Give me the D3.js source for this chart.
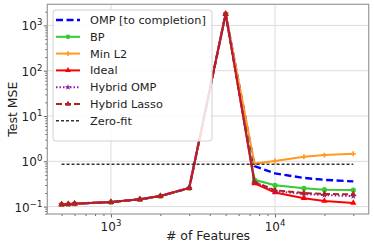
<!DOCTYPE html>
<html><head><meta charset="utf-8">
<script src="https://cdn.jsdelivr.net/npm/d3@7"></script>
<style>body{margin:0;background:#fff}svg{display:block;font-family:"DejaVu Sans",sans-serif}</style>
</head><body><svg id="c" width="374" height="245"></svg>
<script>
const features = [500, 550, 600, 1000, 1500, 2000, 3000, 5000, 7500, 10000, 15000, 20000, 30000];
const sharedLeft = [0.112, 0.113, 0.116, 0.126, 0.145, 0.171, 0.257, 1800];
const ompTail = [0.78, 0.54, 0.43, 0.39, 0.36];
const bpTail = [0.39, 0.295, 0.254, 0.236, 0.232];
const minL2Tail = [0.89, 1.02, 1.26, 1.37, 1.47];
const idealTail = [0.327, 0.205, 0.153, 0.133, 0.12];
const hybridOmpTail = [0.35, 0.22, 0.19, 0.18, 0.17];
const hybridLassoTail = [0.35, 0.23, 0.20, 0.19, 0.187];
const zeroFit = 0.86;
const seriesNames = ["OMP [to completion]", "BP", "Min L2", "Ideal", "Hybrid OMP", "Hybrid Lasso", "Zero-fit"];
const xTickLabels = ["3", "4"];
const yTickLabels = ["-1", "0", "1", "2", "3"];

const W = 374, H = 245;
const m = {l: 47.3, t: 4.3, r: 5.3, b: 31};
const svg = d3.select("#c");
const x = d3.scaleLog().domain([Math.pow(10, 2.612), Math.pow(10, 4.571)]).range([m.l, W - m.r]);
const y = d3.scaleLog().domain([Math.pow(10, -1.163), Math.pow(10, 3.466)]).range([H - m.b, m.t]);

const styles = [
  {color: "#0000ff", dash: "7,3.5", w: 2.4, marker: null},
  {color: "#33cc33", dash: null, w: 2, marker: "circle"},
  {color: "#ff9a1f", dash: null, w: 2, marker: "plus"},
  {color: "#ff0000", dash: null, w: 2, marker: "triangle"},
  {color: "#8b1fa8", dash: "1.5,2", w: 2, marker: "star"},
  {color: "#b22222", dash: "6,3", w: 2, marker: "triangle"},
  {color: "#333333", dash: "3,2", w: 1.5, marker: null}
];
const tails = [ompTail, bpTail, minL2Tail, idealTail, hybridOmpTail, hybridLassoTail];
const series = tails.map((t, i) => ({name: seriesNames[i], vals: sharedLeft.concat(t).map((v, j) => [features[j], v]), st: styles[i]}));
series.push({name: seriesNames[6], vals: [[features[0], zeroFit], [features[features.length - 1], zeroFit]], st: styles[6]});

// grid
const g = svg.append("g");
[1e3, 1e4].forEach(v => g.append("line").attr("x1", x(v)).attr("x2", x(v)).attr("y1", m.t).attr("y2", H - m.b).attr("stroke", "#dcdcdc").attr("stroke-width", 1));
yTickLabels.forEach(e => { const v = Math.pow(10, +e); g.append("line").attr("x1", m.l).attr("x2", W - m.r).attr("y1", y(v)).attr("y2", y(v)).attr("stroke", "#dcdcdc").attr("stroke-width", 1); });

// axes
const xAxis = d3.axisBottom(x).tickValues(xTickLabels.map(e => Math.pow(10, +e))).tickFormat("").tickSize(3.5);
const xMinor = [];
for (let d = 100; d <= 10000; d *= 10) for (let k = 2; k <= 9; k++) { const v = d * k; if (v > x.domain()[0] && v < x.domain()[1]) xMinor.push(v); }
const yMinor = [];
for (let d = 0.01; d <= 1000; d *= 10) for (let k = 2; k <= 9; k++) { const v = d * k; if (v > y.domain()[0] && v < y.domain()[1]) yMinor.push(v); }
const ax = svg.append("g").attr("transform", `translate(0,${H - m.b})`).call(xAxis);
svg.append("g").attr("transform", `translate(0,${H - m.b})`).call(d3.axisBottom(x).tickValues(xMinor).tickFormat("").tickSize(2));
svg.append("g").attr("transform", `translate(${m.l},0)`).call(d3.axisLeft(y).tickValues(yTickLabels.map(e => Math.pow(10, +e))).tickFormat("").tickSize(3.5));
svg.append("g").attr("transform", `translate(${m.l},0)`).call(d3.axisLeft(y).tickValues(yMinor).tickFormat("").tickSize(2));
svg.selectAll(".domain").remove();
svg.selectAll(".tick line").attr("stroke", "#666");

// tick labels
xTickLabels.forEach(e => {
  const t = svg.append("text").attr("x", x(Math.pow(10, +e))).attr("y", H - m.b + 17).attr("text-anchor", "middle").attr("font-size", 12).attr("fill", "#222");
  t.append("tspan").text("10");
  t.append("tspan").attr("dy", -5).attr("font-size", 8.5).text(e);
});
yTickLabels.forEach(e => {
  const t = svg.append("text").attr("x", m.l - 5).attr("y", y(Math.pow(10, +e)) + 5).attr("text-anchor", "end").attr("font-size", 12).attr("fill", "#222");
  t.append("tspan").text("10");
  t.append("tspan").attr("dy", -5).attr("font-size", 8.5).text(e.replace("-", "\u2212"));
});
svg.append("text").attr("x", (m.l + W - m.r) / 2).attr("y", 240).attr("text-anchor", "middle").attr("font-size", 12.5).attr("fill", "#222").text("# of Features");
svg.append("text").attr("transform", `translate(17,${(m.t + H - m.b) / 2}) rotate(-90)`).attr("text-anchor", "middle").attr("font-size", 12.5).attr("fill", "#222").text("Test MSE");

// clip
svg.append("clipPath").attr("id", "pc").append("rect").attr("x", m.l).attr("y", m.t).attr("width", W - m.l - m.r).attr("height", H - m.t - m.b);
const plot = svg.append("g").attr("clip-path", "url(#pc)");
const line = d3.line().x(d => x(d[0])).y(d => y(d[1]));

function drawMarker(sel, type, color, s) {
  if (type === "circle") sel.append("circle").attr("r", s).attr("fill", color);
  else if (type === "triangle") sel.append("path").attr("d", d3.symbol(d3.symbolTriangle, s * s * 2.6)()).attr("fill", color);
  else if (type === "plus") sel.append("path").attr("d", d3.symbol(d3.symbolCross, s * s * 2)()).attr("fill", color);
  else if (type === "star") sel.append("path").attr("d", d3.symbol(d3.symbolStar, s * s * 2)()).attr("fill", color);
}

series.forEach(s => {
  plot.append("path").attr("d", line(s.vals)).attr("fill", "none").attr("stroke", s.st.color).attr("stroke-width", s.st.w).attr("stroke-dasharray", s.st.dash);
  if (s.st.marker) s.vals.forEach(d => {
    const mg = plot.append("g").attr("transform", `translate(${x(d[0])},${y(d[1])})`);
    drawMarker(mg, s.st.marker, s.st.color, 2.6);
  });
});

// frame
svg.append("rect").attr("x", m.l).attr("y", m.t).attr("width", W - m.l - m.r).attr("height", H - m.t - m.b).attr("fill", "none").attr("stroke", "#999").attr("stroke-width", 1.2);

// legend
const lg = svg.append("g");
lg.append("rect").attr("x", 53).attr("y", 10).attr("width", 159).attr("height", 131).attr("rx", 3).attr("fill", "#fff").attr("fill-opacity", 0.85).attr("stroke", "#d0d0d0");
series.forEach((s, i) => {
  const yy = 20 + i * 16.8;
  lg.append("line").attr("x1", 56).attr("x2", 80).attr("y1", yy).attr("y2", yy).attr("stroke", s.st.color).attr("stroke-width", s.st.w).attr("stroke-dasharray", s.st.dash);
  if (s.st.marker) drawMarker(lg.append("g").attr("transform", `translate(68,${yy})`), s.st.marker, s.st.color, 2.4);
  lg.append("text").attr("x", 90).attr("y", yy + 4).attr("font-size", 11.3).attr("fill", "#222").text(s.name);
});
</script></body></html>
